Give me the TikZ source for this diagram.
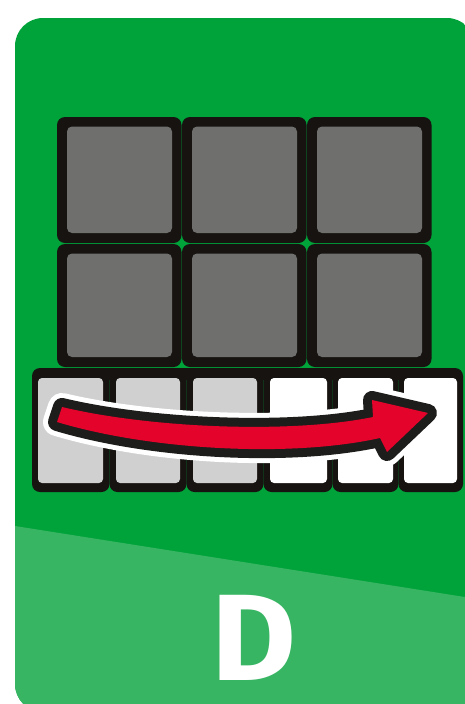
\documentclass[tikz,border=0pt]{standalone}
\usepackage{fontspec}
\setmainfont{Fira Sans}
\definecolor{cardgreen}{RGB}{0,163,58}
\definecolor{lightgreen}{RGB}{55,181,99}
\definecolor{tileblack}{RGB}{22,19,17}
\definecolor{tilegray}{RGB}{111,111,110}
\definecolor{cellgray}{RGB}{208,208,208}
\definecolor{arrowred}{RGB}{228,3,43}
\definecolor{arrowblack}{RGB}{29,29,27}
\tikzset{
  tileout/.style={fill=tileblack, rounded corners=8pt},
  tilein/.style={fill=tilegray, rounded corners=5pt},
  cellin/.style={rounded corners=4pt},
}
\begin{document}
\begin{tikzpicture}[x=1pt,y=-1pt]
\useasboundingbox (0,0) rectangle (465,704);
% card
\begin{scope}
  \clip (0,0) rectangle (465,704);
  \clip[rounded corners=28pt] (15,18) rectangle (475,712);
  \fill[cardgreen] (0,0) rectangle (480,720);
  \fill[lightgreen] (15,526) -- (475,598.6) -- (475,720) -- (0,720) -- (0,526) -- cycle;
\end{scope}
% top grid tiles
\foreach \x in {57,182,307}{
  \foreach \y/\h in {117/126,244/123}{
    \fill[tileout] (\x,\y) rectangle ++(124.5,\h);
    \fill[tilein] (\x+10,\y+9.5) rectangle ++(105,\h-19.5);
  }
}
% bottom row
\foreach \a/\b in {32/109.5,109.5/186.5,186.5/263.5,263.5/332.5,332.5/398.5,398.5/463}{
  \fill[tileout] (\a,368) rectangle (\b,492);
}
\fill[tileblack] (40,368) rectangle (455,380);
\foreach \a/\b/\c in {38/103/cellgray,116/180/cellgray,193/257/cellgray,270/327/white,338/393/white,404/457/white}{
  \fill[\c,cellin] (\a,378) rectangle (\b,483);
}
% arrow
\def\arrowpath{(62,407) .. controls (150,428) and (290,434) .. (373,417) -- (372,400) -- (428,413) -- (387,452) -- (380,438) .. controls (290,458) and (150,450) .. (57,422) -- cycle}
\draw[white, line width=28pt, line join=round] \arrowpath;
\draw[arrowblack, line width=18pt, line join=round] \arrowpath;
\fill[arrowred] \arrowpath;
% letter
\node[inner sep=4pt, text=white, xscale=1.06, font=\fontsize{123}{123}\bfseries\selectfont] (letter) at (253.5,637.5) {D};
\end{tikzpicture}
\end{document}
